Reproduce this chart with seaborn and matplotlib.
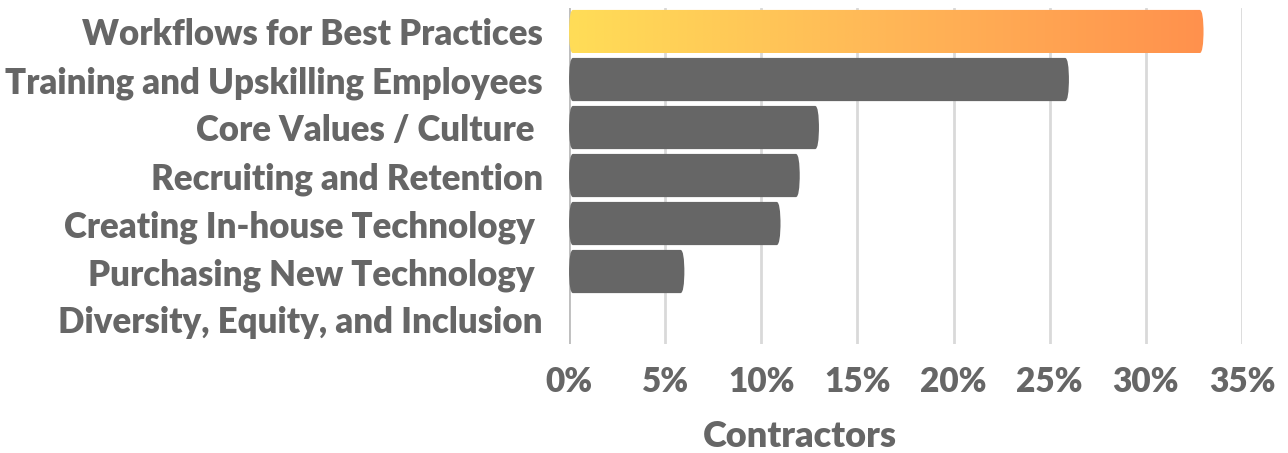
import numpy as np
import pandas as pd
import matplotlib
matplotlib.use("Agg")
import matplotlib.pyplot as plt
from matplotlib.patches import FancyBboxPatch
from matplotlib.colors import LinearSegmentedColormap
import seaborn as sns

categories = [
    "Workflows for Best Practices",
    "Training and Upskilling Employees",
    "Core Values / Culture ",
    "Recruiting and Retention",
    "Creating In-house Technology ",
    "Purchasing New Technology ",
    "Diversity, Equity, and Inclusion",
]
shares = [33, 26, 13, 12, 11, 6, 0]
tick_values = [0, 5, 10, 15, 20, 25, 30, 35]
tick_labels = ["0%", "5%", "10%", "15%", "20%", "25%", "30%", "35%"]

TEXT = "#666666"
BAR = "#666666"
GRID = "#d9d9d9"

sns.set_theme(style="white")
plt.rcParams["font.family"] = ["Lato", "DejaVu Sans"]

df = pd.DataFrame({"category": categories, "share": shares})

fig = plt.figure(figsize=(12.88, 4.53), dpi=100)
ax = fig.add_axes([0.4418, 0.2417, 0.5225, 0.7417])

sns.barplot(data=df, x="share", y="category", orient="h", color=BAR,
            width=0.9, saturation=1, ax=ax, zorder=3)

ax.set_xlim(0, 35)
ax.set_ylim(6.5, -0.5)

# swap the plain rectangles for slightly rounded ones
x_px = 673 / 35
y_px = 336 / 7
aspect = x_px / y_px
rounded = []
for p in list(ax.patches):
    x0, y0 = p.get_x(), p.get_y()
    w, h = p.get_width(), p.get_height()
    p.remove()
    if w <= 0:
        continue
    fb = FancyBboxPatch((x0, y0), w, h,
                        boxstyle="round,pad=0,rounding_size=0.2",
                        mutation_aspect=1 / aspect,
                        facecolor=BAR, edgecolor="none", zorder=3)
    ax.add_patch(fb)
    rounded.append(fb)

# gradient fill for the leading bar
top = rounded[0]
top.set_facecolor("none")
grad = LinearSegmentedColormap.from_list("warm", ["#ffdd57", "#ffb757", "#ff914d"])
img = ax.imshow(np.linspace(0, 1, 256).reshape(1, -1), cmap=grad, aspect="auto",
                extent=(0, shares[0], 0.45, -0.45), zorder=3, interpolation="bilinear")
img.set_clip_path(top)
ax.set_xlim(0, 35)
ax.set_ylim(6.5, -0.5)

ax.set_xticks(tick_values)
ax.set_xticklabels(tick_labels)
ax.grid(axis="x", color=GRID, linewidth=2, zorder=0)
ax.grid(axis="y", visible=False)
for s in ax.spines.values():
    s.set_visible(False)
ax.axvline(0, color="#bfbfbf", linewidth=2, zorder=1)

ax.tick_params(axis="y", length=0, pad=19, labelsize=25, labelcolor=TEXT)
ax.tick_params(axis="x", length=0, pad=16, labelsize=24, labelcolor=TEXT)
for t in ax.get_yticklabels() + ax.get_xticklabels():
    t.set_fontweight("heavy")

ax.set_ylabel("")
ax.set_xlabel("Contractors", fontsize=26, fontweight="heavy", color=TEXT)
ax.xaxis.set_label_coords(231 / 673, -0.278)
ax.xaxis.label.set_verticalalignment("center")

fig.savefig("out.png", dpi=100, facecolor="white")
